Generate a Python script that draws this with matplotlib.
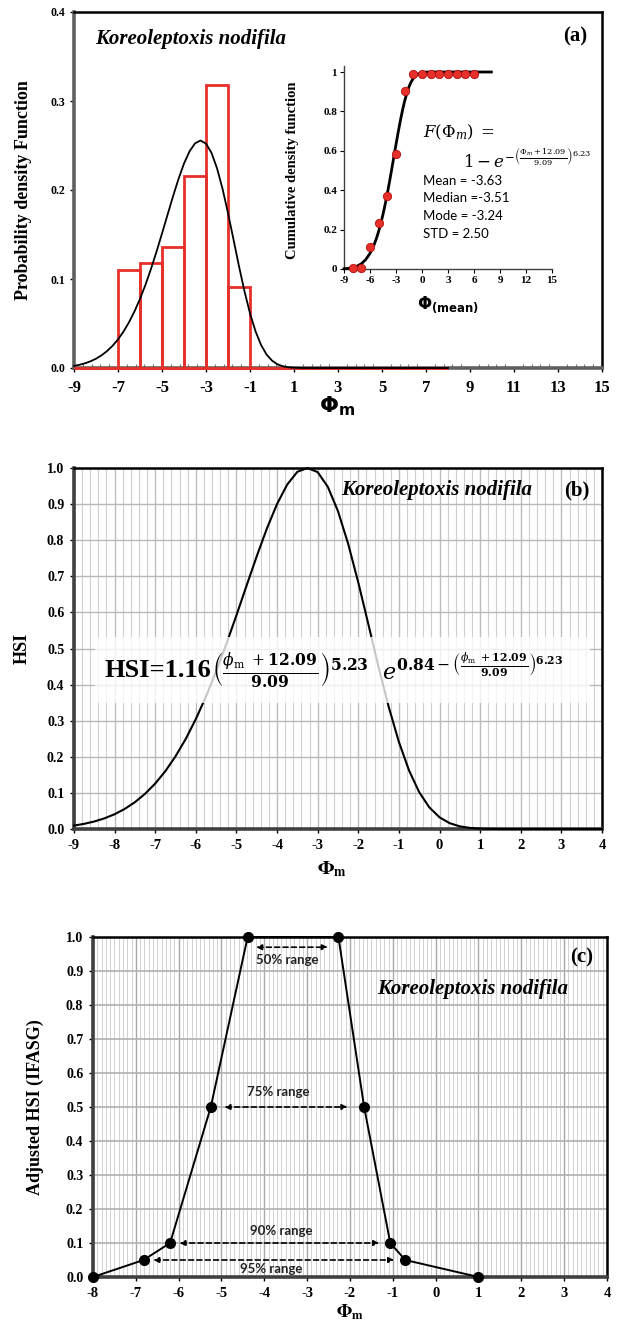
import numpy as np
import matplotlib
matplotlib.use('Agg')
import matplotlib.pyplot as plt
from matplotlib.ticker import MultipleLocator, FixedLocator
from matplotlib.patches import Rectangle

# ---------------- data ----------------
species = 'Koreoleptoxis nodifila'

# (a) histogram of Phi_m
bin_left = [-9, -8, -7, -6, -5, -4, -3, -2, -1, 0, 1, 2, 3, 4, 5, 6, 7]
bin_height = [0, 0, 0.110, 0.118, 0.136, 0.216, 0.318, 0.091, 0, 0, 0, 0, 0, 0, 0, 0, 0]

# (a) fitted probability density curve
pdf_x = [-9, -8.75, -8.5, -8.25, -8, -7.75, -7.5, -7.25, -7, -6.75, -6.5, -6.25, -6,
         -5.75, -5.5, -5.25, -5, -4.75, -4.5, -4.25, -4, -3.75, -3.5, -3.25, -3,
         -2.75, -2.5, -2.25, -2, -1.75, -1.5, -1.25, -1, -0.75, -0.5, -0.25, 0,
         0.25, 0.5, 0.75, 1, 1.25, 1.5, 2, 3, 4, 5, 6, 7, 8]
pdf_y = [0.0024, 0.0036, 0.0053, 0.0075, 0.0104, 0.0142, 0.0190, 0.0249, 0.0321, 0.0409,
         0.0514, 0.0636, 0.0777, 0.0936, 0.1114, 0.1307, 0.1511, 0.1720, 0.1928, 0.2124,
         0.2297, 0.2434, 0.2524, 0.2556, 0.2521, 0.2417, 0.2245, 0.2015, 0.1741, 0.1444,
         0.1143, 0.0861, 0.0614, 0.0413, 0.0260, 0.0152, 0.0083, 0.0041, 0.0019, 0.0008,
         0.0003, 0.0001, 0.0, 0, 0, 0, 0, 0, 0, 0]
a_xticks = [-9, -7, -5, -3, -1, 1, 3, 5, 7, 9, 11, 13, 15]
a_yticks = [0.0, 0.1, 0.2, 0.3, 0.4]

# (a inset) cumulative density: observed points and fitted curve
cdf_obs_x = [-8, -7, -6, -5, -4, -3, -2, -1, 0, 1, 2, 3, 4, 5, 6]
cdf_obs_y = [0.007, 0.007, 0.114, 0.234, 0.369, 0.586, 0.903, 0.992, 0.992, 0.992,
             0.992, 0.992, 0.992, 0.992, 0.992]
cdf_fit_x = [-9, -8.5, -8, -7.5, -7, -6.5, -6, -5.75, -5.5, -5.25, -5, -4.75, -4.5, -4.25,
             -4, -3.75, -3.5, -3.25, -3, -2.75, -2.5, -2.25, -2, -1.75, -1.5, -1.25, -1,
             -0.5, 0, 0.5, 1, 2, 3, 4, 5, 6, 7, 8]
cdf_fit_y = [0.0012, 0.0031, 0.0069, 0.0141, 0.0266, 0.0472, 0.0792, 0.1005, 0.1262, 0.1564,
             0.1915, 0.2319, 0.2775, 0.3282, 0.3836, 0.4428, 0.5049, 0.5685, 0.6321, 0.6940,
             0.7524, 0.8058, 0.8528, 0.8926, 0.9250, 0.9500, 0.9683, 0.9894, 0.9973, 0.9995,
             0.9999, 1.0, 1.0, 1.0, 1.0, 1.0, 1.0, 1.0]
stats_labels = ['Mean = -3.63', 'Median =-3.51', 'Mode = -3.24', 'STD = 2.50']
i_xticks = [-9, -6, -3, 0, 3, 6, 9, 12, 15]
i_yticks = [0, 0.2, 0.4, 0.6, 0.8, 1.0]
i_yticklabels = ['0', '0.2', '0.4', '0.6', '0.8', '1']

# (b) HSI curve
hsi_x = [-9, -8.75, -8.5, -8.25, -8, -7.75, -7.5, -7.25, -7, -6.75, -6.5, -6.25, -6,
         -5.75, -5.5, -5.25, -5, -4.75, -4.5, -4.25, -4, -3.75, -3.5, -3.25, -3,
         -2.75, -2.5, -2.25, -2, -1.75, -1.5, -1.25, -1, -0.75, -0.5, -0.25, 0,
         0.25, 0.5, 0.75, 1, 1.25, 1.5, 2, 3, 4]
hsi_y = [0.0095, 0.0143, 0.0208, 0.0295, 0.0409, 0.0557, 0.0743, 0.0975, 0.1260, 0.1604,
         0.2014, 0.2493, 0.3046, 0.3671, 0.4367, 0.5123, 0.5922, 0.6745, 0.7558, 0.8327,
         0.9004, 0.9543, 0.9896, 1.0, 0.9885, 0.9477, 0.8803, 0.7900, 0.6826, 0.5661,
         0.4480, 0.3377, 0.2408, 0.1619, 0.1018, 0.0597, 0.0324, 0.0161, 0.0073, 0.0030,
         0.0011, 0.0004, 0.0001, 0, 0, 0]
b_xticks = [-9, -8, -7, -6, -5, -4, -3, -2, -1, 0, 1, 2, 3, 4]
hsi_yticks = [0.0, 0.1, 0.2, 0.3, 0.4, 0.5, 0.6, 0.7, 0.8, 0.9, 1.0]

# (c) adjusted HSI
adj_x = [-8.0, -6.82, -6.2, -5.25, -4.39, -2.27, -1.67, -1.06, -0.71, 1.0]
adj_y = [0.0, 0.05, 0.10, 0.50, 1.00, 1.00, 0.50, 0.10, 0.05, 0.0]
range_labels = ['50% range', '75% range', '90% range', '95% range']
range_level = [0.97, 0.50, 0.10, 0.05]
range_left = [-4.19, -4.93, -5.98, -6.59]
range_right = [-2.52, -2.06, -1.32, -0.97]
range_text_x = [-3.47, -3.67, -3.61, -3.83]
range_text_y = [0.932, 0.544, 0.136, 0.023]
c_xticks = [-8, -7, -6, -5, -4, -3, -2, -1, 0, 1, 2, 3, 4]

# ---------------- style ----------------
SERIF = 'Liberation Serif'
SANS = 'Lato'
RED = '#e8302a'
plt.rcParams['font.family'] = [SERIF, 'DejaVu Serif']
plt.rcParams['axes.unicode_minus'] = False

W, H = 619, 1326
fig = plt.figure(figsize=(W / 100, H / 100), dpi=100)


def px_axes(l, t, r, b):
    return fig.add_axes([l / W, 1 - b / H, (r - l) / W, (b - t) / H])


def frame(ax, side_color='#606060'):
    for s in ['left', 'bottom']:
        ax.spines[s].set_color(side_color)
        ax.spines[s].set_linewidth(2.6)
    for s in ['top', 'right']:
        ax.spines[s].set_color('black')
        ax.spines[s].set_linewidth(1.8)


def set_ticks(ax, xt, yt, xsize, ysize, xlabels=None, ylabels=None, yfmt='%.1f'):
    xl = xlabels if xlabels is not None else [f'{v:g}' for v in xt]
    yl = ylabels if ylabels is not None else [yfmt % v for v in yt]
    ax.set_xticks(xt, xl, fontweight='bold', fontsize=xsize, fontfamily=SERIF)
    ax.set_yticks(yt, yl, fontweight='bold', fontsize=ysize, fontfamily=SERIF)


# ================= (a) =================
axa = px_axes(74, 12, 602, 368)
axa.bar(bin_left, bin_height, width=1, align='edge', fill=False, edgecolor=RED,
        linewidth=2.0, zorder=3, clip_on=False)
axa.plot(pdf_x, pdf_y, color='black', lw=1.3, zorder=4, clip_on=False)
axa.set_xlim(-9, 15)
axa.set_ylim(0, 0.4)
set_ticks(axa, a_xticks, a_yticks, 12, 8.5)
axa.xaxis.set_minor_locator(FixedLocator(np.arange(-9, 15.01, 0.4)))
axa.tick_params(axis='x', which='major', direction='out', length=3, width=1, pad=6)
axa.tick_params(axis='x', which='minor', direction='in', length=3, width=0.8, color='#707070')
axa.tick_params(axis='y', which='major', direction='out', length=3, width=1, pad=3)
frame(axa)
axa.set_ylabel('Probability density Function', fontsize=13, fontweight='bold')
axa.yaxis.set_label_coords(-0.08, 0.5)
axa.set_xlabel(r'$\mathbf{\Phi_{m}}$', fontsize=16, math_fontfamily='dejavusans')
axa.xaxis.set_label_coords(0.498, -0.075)
axa.text(0.22, 0.924, species, transform=axa.transAxes, fontsize=15,
         fontweight='bold', fontstyle='italic', ha='center', va='center')
axa.text(0.949, 0.93, '(a)', transform=axa.transAxes, fontsize=15,
         fontweight='bold', ha='center', va='center')

# inset
axi = px_axes(344, 72, 552, 269)
axi.plot(cdf_fit_x, cdf_fit_y, color='black', lw=2.0, zorder=3, clip_on=False)
axi.plot(cdf_obs_x, cdf_obs_y, 'o', ms=6, mfc=RED, mec='#b01010', mew=0.6,
         zorder=4, clip_on=False)
axi.set_xlim(-9, 15)
axi.set_ylim(0, 1.0)
axi.spines['top'].set_visible(False)
axi.spines['right'].set_visible(False)
axi.spines['left'].set_bounds(0, 1.03)
for s in ['left', 'bottom']:
    axi.spines[s].set_color('#404040')
    axi.spines[s].set_linewidth(1.0)
set_ticks(axi, i_xticks, i_yticks, 8, 8, ylabels=i_yticklabels)
axi.tick_params(direction='out', length=3, width=0.8, pad=2)
axi.set_ylabel('Cumulative density function', fontsize=10.5, fontweight='bold')
axi.yaxis.set_label_coords(-0.215, 0.5)
axi.set_xlabel(r'$\mathbf{\Phi_{(mean)}}$', fontsize=12, math_fontfamily='dejavusans')
axi.xaxis.set_label_coords(0.5, -0.13)
axi.text(0.1, 0.695, r'$F(\Phi_m)\;=$', fontsize=12, ha='left', va='center',
         math_fontfamily='dejavuserif')
axi.text(4.7, 0.553, r'$1-e^{-\left(\frac{\Phi_m+12.09}{9.09}\right)^{6.23}}$', fontsize=12,
         ha='left', va='center', math_fontfamily='dejavuserif')
for lab, yy in zip(stats_labels, [0.447, 0.36, 0.27, 0.178]):
    axi.text(0.1, yy, lab, fontsize=9.5, ha='left', va='center', family=SANS)

# ================= (b) =================
axb = px_axes(74, 468, 602, 829)
axb.set_xlim(-9, 4)
axb.set_ylim(0, 1.0)
set_ticks(axb, b_xticks, hsi_yticks, 10.5, 10)
axb.xaxis.set_minor_locator(MultipleLocator(0.2))
axb.grid(True, which='minor', axis='x', color='#cfcfcf', lw=0.8)
axb.grid(True, which='major', axis='x', color='#bdbdbd', lw=1.0)
axb.grid(True, which='major', axis='y', color='#b8b8b8', lw=1.0)
axb.set_axisbelow(True)
axb.plot(hsi_x, hsi_y, color='black', lw=1.5, zorder=3, clip_on=False)
axb.tick_params(axis='both', which='major', direction='out', length=3, width=1, pad=4)
axb.tick_params(axis='x', which='minor', length=0)
frame(axb, side_color='#404040')
axb.set_ylabel('HSI', fontsize=13, fontweight='bold')
axb.yaxis.set_label_coords(-0.083, 0.5)
axb.set_xlabel(r'$\mathbf{\Phi_{m}}$', fontsize=14, math_fontfamily='stix')
axb.xaxis.set_label_coords(0.489, -0.085)
axb.add_patch(Rectangle((0.04, 0.349), 0.937, 0.183, transform=axb.transAxes,
                        facecolor='white', edgecolor='none', alpha=0.78, zorder=5))
axb.text(0.058, 0.438, 'HSI=1.16', transform=axb.transAxes, fontsize=19,
         fontweight='bold', ha='left', va='center', zorder=6)
axb.text(0.262, 0.44,
         r'$\left(\frac{\phi_{\mathrm{m}}\ +\mathbf{12.09}}{\mathbf{9.09}}\right)^{\mathbf{5.23}}'
         r'\ \ e^{\mathbf{0.84}-\left(\frac{\phi_{\mathrm{m}}\ +\mathbf{12.09}}'
         r'{\mathbf{9.09}}\right)^{\mathbf{6.23}}}$',
         transform=axb.transAxes, fontsize=16, ha='left', va='center', zorder=6,
         math_fontfamily='dejavuserif')
axb.text(0.6875, 0.939, species, transform=axb.transAxes, fontsize=15,
         fontweight='bold', fontstyle='italic', ha='center', va='center', zorder=6)
axb.text(0.953, 0.939, '(b)', transform=axb.transAxes, fontsize=15,
         fontweight='bold', ha='center', va='center', zorder=6)

# ================= (c) =================
axc = px_axes(93, 937, 607, 1277)
axc.set_xlim(-8, 4)
axc.set_ylim(0, 1.0)
set_ticks(axc, c_xticks, hsi_yticks, 10.5, 10)
axc.xaxis.set_minor_locator(MultipleLocator(0.1))
axc.grid(True, which='minor', axis='x', color='#d2d2d2', lw=0.7)
axc.grid(True, which='major', axis='x', color='#a8a8a8', lw=1.0)
axc.grid(True, which='major', axis='y', color='#b0b0b0', lw=1.2)
axc.set_axisbelow(True)
axc.plot(adj_x, adj_y, '-o', color='black', lw=1.4, ms=7, zorder=4, clip_on=False)
for lab, lv, xl, xr, tx, ty in zip(range_labels, range_level, range_left, range_right,
                                   range_text_x, range_text_y):
    axc.annotate('', xy=(xr, lv), xytext=(xl, lv),
                 arrowprops=dict(arrowstyle='<|-|>', ls=(0, (3, 2)), lw=1.2, color='black',
                                 mutation_scale=8, shrinkA=0, shrinkB=0), zorder=5)
    axc.text(tx, ty, lab, fontsize=9.5, fontweight='bold', family=SANS,
             ha='center', va='center', zorder=5, color='#222222')
axc.tick_params(axis='both', which='major', direction='out', length=3, width=1, pad=4)
axc.tick_params(axis='x', which='minor', length=0)
frame(axc, side_color='#404040')
axc.set_ylabel('Adjusted HSI (IFASG)', fontsize=13, fontweight='bold')
axc.yaxis.set_label_coords(-0.095, 0.5)
axc.set_xlabel(r'$\mathbf{\Phi_{m}}$', fontsize=13, math_fontfamily='stix')
axc.xaxis.set_label_coords(0.5, -0.075)
axc.text(0.739, 0.847, species, transform=axc.transAxes, fontsize=15,
         fontweight='bold', fontstyle='italic', ha='center', va='center', zorder=6)
axc.text(0.951, 0.941, '(c)', transform=axc.transAxes, fontsize=15,
         fontweight='bold', ha='center', va='center', zorder=6)

fig.savefig('out.png', dpi=100)
